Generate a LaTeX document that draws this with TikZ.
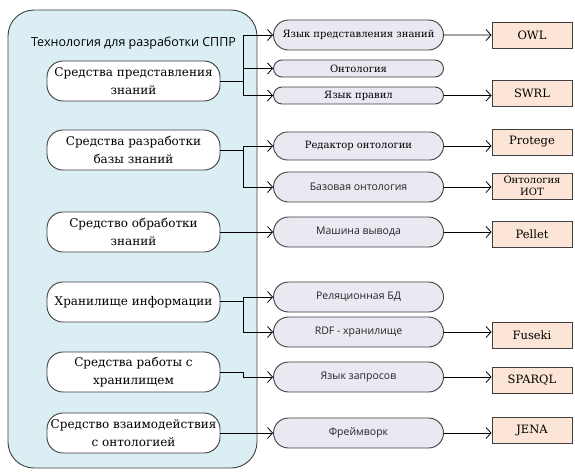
\documentclass[tikz,border=0pt]{standalone}
\usepackage{fontspec}
\setmainfont{DejaVu Serif}
\setsansfont{Open Sans}
\usetikzlibrary{positioning,shapes.misc,arrows.meta}
\definecolor{techfill}{HTML}{DAEEF3}
\definecolor{partfill}{HTML}{EAE8F1}
\definecolor{prodfill}{HTML}{FCE4D6}
\definecolor{edgeink}{HTML}{3F3F3F}

\begin{document}
\begin{tikzpicture}[x=1pt, y=-1pt,
  techarea/.style={draw=edgeink, fill=techfill, rounded corners=26pt, line width=0.9pt},
  toolgroup/.style={draw=edgeink, fill=white, rounded corners=16pt, line width=0.9pt,
    minimum width=173pt, minimum height=40pt, inner sep=1pt, align=center,
    font=\rmfamily\fontsize{12}{18}\selectfont},
  toolpart/.style={rounded rectangle, draw=edgeink, fill=partfill, line width=0.9pt,
    minimum width=172pt, minimum height=30pt, inner sep=1pt,
    font=\rmfamily\fontsize{10}{14}\selectfont},
  thinpart/.style={toolpart, minimum height=17pt},
  sanspart/.style={toolpart, text=black!85, font=\sffamily\fontsize{10.5}{12}\selectfont},
  product/.style={draw=edgeink, fill=prodfill, line width=0.9pt, minimum width=80pt,
    minimum height=26pt, inner sep=1pt, align=center,
    font=\rmfamily\fontsize{11.5}{13}\selectfont},
  flow/.style={-{Straight Barb[length=5pt,width=11pt]}, line width=0.8pt}]
  \useasboundingbox (0,0) rectangle (575,471);
  \draw[techarea] (8,10) rectangle (257,468);
  \node[font=\sffamily\fontsize{12.5}{14}\selectfont] (title) at (133.5,43) {Технология для разработки СППР};
  % left column
  \node[toolgroup] (g1) at (133.5,81) {Средства представления\\знаний};
  \node[toolgroup] (g2) at (133.5,150) {Средства разработки\\базы знаний};
  \node[toolgroup] (g3) at (133.5,232) {Средство обработки\\знаний};
  \node[toolgroup] (g4) at (133.5,302) {Хранилище информации};
  \node[toolgroup] (g5) at (133.5,372) {Средства работы с\\хранилищем};
  \node[toolgroup] (g6) at (133.5,433) {Средство взаимодействия\\с онтологией};
  % middle column
  \node[toolpart] (p1) at (358.5,35) {Язык представления знаний};
  \node[thinpart] (p2) at (358.5,68.5) {Онтология};
  \node[thinpart] (p3) at (358.5,95.5) {Язык правил};
  \node[toolpart, minimum height=28pt] (p4) at (358.5,146) {Редактор онтологии};
  \node[sanspart] (p5) at (358.5,187) {Базовая онтология};
  \node[sanspart] (p6) at (358.5,232) {Машина вывода};
  \node[sanspart] (p7) at (358.5,297) {Реляционная БД};
  \node[sanspart] (p8) at (358.5,332) {RDF - хранилище};
  \node[sanspart] (p9) at (358.5,377) {Язык запросов};
  \node[sanspart] (p10) at (358.5,433) {Фреймворк};
  % right column
  \node[product] (r1) at (532,35) {OWL};
  \node[product] (r2) at (532,93) {SWRL};
  \node[product] (r3) at (532,142) {Protege};
  \node[product, font=\rmfamily\fontsize{10}{11.5}\selectfont] (r4) at (532,186) {Онтология\\ИОТ};
  \node[product] (r5) at (532,234) {Pellet};
  \node[product] (r6) at (532,335) {Fuseki};
  \node[product] (r7) at (532,380) {SPARQL};
  \node[product] (r8) at (532,430) {JENA};
  % left to middle
  \coordinate (b1) at (243,81);
  \coordinate (b2) at (243,150);
  \coordinate (b4) at (243,301);
  \coordinate (b5) at (243,372);
  \draw[line width=0.8pt] (g1.east) -- (b1);
  \foreach \p in {p1,p2,p3} \draw[flow] (b1) |- (\p.west);
  \draw[line width=0.8pt] (g2.east) -- (b2);
  \foreach \p in {p4,p5} \draw[flow] (b2) |- (\p.west);
  \draw[flow] (g3) -- (p6);
  \draw[line width=0.8pt] (g4.east |- b4) -- (b4);
  \foreach \p in {p7,p8} \draw[flow] (b4) |- (\p.west);
  \draw[flow] (g5.east) -- (b5) |- (p9.west);
  \draw[flow] (g6) -- (p10);
  % middle to right
  \draw[flow] (p1) -- (r1);
  \draw[flow] (p3.east) -- (p3.east -| r2.west);
  \draw[flow] (p4.east) -- (p4.east -| r3.west);
  \draw[flow] (p5.east) -- (p5.east -| r4.west);
  \draw[flow] (p6.east) -- (p6.east -| r5.west);
  \draw[flow] (p8.east) -- (p8.east -| r6.west);
  \draw[flow] (p9.east) -- (p9.east -| r7.west);
  \draw[flow] (p10.east) -- (p10.east -| r8.west);
\end{tikzpicture}
\end{document}
